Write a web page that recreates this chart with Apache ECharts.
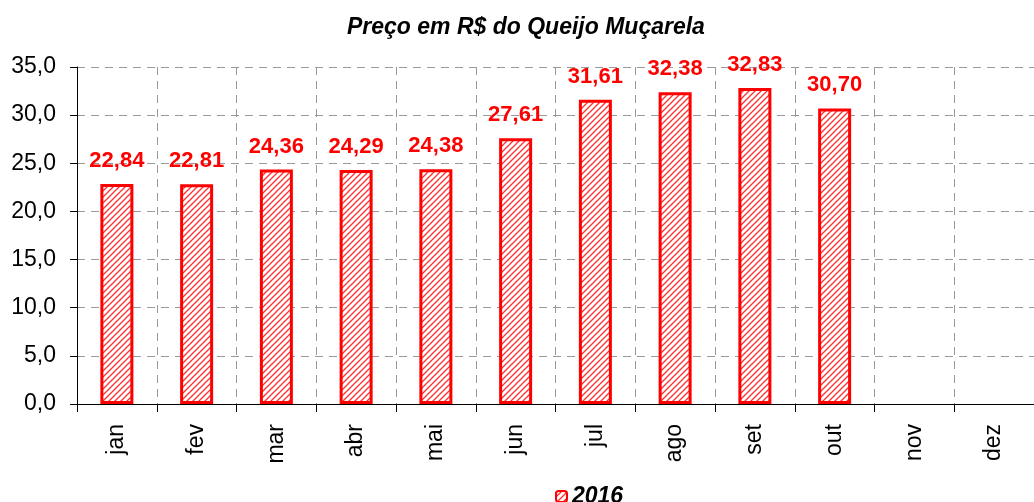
<!DOCTYPE html>
<html>
<head>
<meta charset="utf-8">
<script src="https://cdn.jsdelivr.net/npm/echarts@6/dist/echarts.min.js"></script>
<style>
  html, body { margin: 0; padding: 0; background: #fff; }
  #chart { width: 1034px; height: 502px; }
</style>
</head>
<body>
<div id="chart"></div>
<script>
const meses = ["jan", "fev", "mar", "abr", "mai", "jun", "jul", "ago", "set", "out", "nov", "dez"];
const precos2016 = [22.84, 22.81, 24.36, 24.29, 24.38, 27.61, 31.61, 32.38, 32.83, 30.70, null, null];
const serieNome = "2016";

// hachura vermelha diagonal
function hatch() {
  const c = document.createElement("canvas");
  c.width = 6;
  c.height = 6;
  const ctx = c.getContext("2d");
  ctx.fillStyle = "#ffffff";
  ctx.fillRect(0, 0, 6, 6);
  ctx.strokeStyle = "#ff3030";
  ctx.lineWidth = 1.3;
  ctx.beginPath();
  ctx.moveTo(-1, 7); ctx.lineTo(7, -1);
  ctx.moveTo(-4, 4); ctx.lineTo(4, -4);
  ctx.moveTo(2, 10); ctx.lineTo(10, 2);
  ctx.stroke();
  return c;
}

const fmt = v => v.toFixed(1).replace(".", ",");
const font = "'Liberation Sans', Arial, sans-serif";

let myChart = echarts.init(document.getElementById("chart"));
let options = {
  animation: false,
  title: {
    text: "Preço em R$ do Queijo Muçarela",
    left: 342,
    top: 11,
    textStyle: { fontFamily: font, fontSize: 23, fontWeight: "bold", fontStyle: "italic", color: "#000" }
  },
  legend: {
    data: [serieNome],
    left: 550,
    top: 480,
    itemWidth: 11,
    itemHeight: 11,
    itemGap: 6,
    textStyle: { fontFamily: font, fontSize: 23, fontWeight: "bold", fontStyle: "italic", color: "#000" }
  },
  grid: { left: 77, top: 67, width: 967, height: 337, containLabel: false },
  xAxis: {
    type: "category",
    data: meses,
    axisLine: { lineStyle: { color: "#000", width: 1 } },
    axisTick: { show: true, length: 8, lineStyle: { color: "#000" } },
    axisLabel: { rotate: 90, margin: 20, fontFamily: font, fontSize: 23, color: "#000" },
    splitLine: { show: true, lineStyle: { color: "#999", type: [8, 6], width: 1 } }
  },
  yAxis: {
    type: "value",
    min: 0,
    max: 35,
    interval: 5,
    axisLine: { show: true, lineStyle: { color: "#000", width: 1 } },
    axisTick: { show: true, length: 7, lineStyle: { color: "#000" } },
    axisLabel: { margin: 21, fontFamily: font, fontSize: 23, color: "#000", formatter: fmt },
    splitLine: { show: true, lineStyle: { color: "#999", type: [8, 6], width: 1 } }
  },
  series: [
    {
      name: serieNome,
      type: "bar",
      data: precos2016,
      barWidth: 33,
      itemStyle: {
        color: { image: hatch(), repeat: "repeat" },
        borderColor: "#ff0000",
        borderWidth: 3
      },
      label: {
        show: true,
        position: "top",
        distance: 12,
        fontFamily: font,
        fontSize: 22,
        fontWeight: "bold",
        color: "#ff0000",
        formatter: p => p.value.toFixed(2).replace(".", ",")
      }
    }
  ]
};
myChart.setOption(options);
</script>
</body>
</html>
